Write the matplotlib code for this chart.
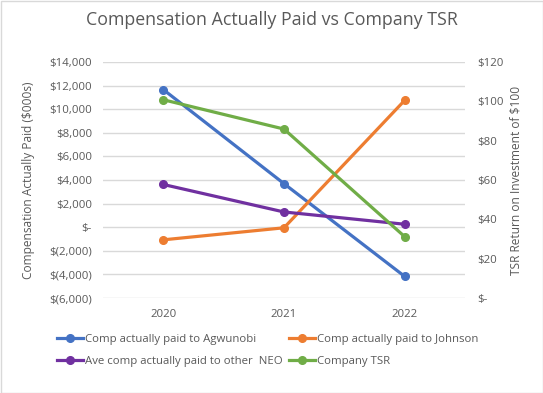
import numpy as np
import matplotlib.pyplot as plt
from matplotlib.patches import Rectangle

plt.rcParams['font.family'] = ['Open Sans', 'DejaVu Sans']

years = ['2020', '2021', '2022']
agwunobi = [11660, 3690, -4170]
johnson = [-1070, -50, 10750]
other_neo = [3620, 1290, 250]
tsr = [100.8, 85.9, 31.2]

grey = '#595959'
x = np.arange(len(years))

fig = plt.figure(figsize=(5.43, 3.93), dpi=100)
ax = fig.add_axes([103/543, 1-298/393, 362/543, 236/393])
ax2 = ax.twinx()

lw, ms = 2.3, 5.5
l1, = ax.plot(x, agwunobi, color='#4472C4', lw=lw, marker='o', ms=ms, label='Comp actually paid to Agwunobi')
l2, = ax.plot(x, johnson, color='#ED7D31', lw=lw, marker='o', ms=ms, label='Comp actually paid to Johnson')
l3, = ax.plot(x, other_neo, color='#7030A0', lw=lw, marker='o', ms=ms, label='Ave comp actually paid to other  NEO')
l4, = ax2.plot(x, tsr, color='#70AD47', lw=lw, marker='o', ms=ms, label='Company TSR')

ax.set_xlim(-0.5, 2.5)
ax.set_ylim(-6000, 14000)
ax.set_yticks(np.arange(-6000, 14001, 2000))
ax2.set_ylim(0, 120)
ax2.set_yticks(np.arange(0, 121, 20))

def left_fmt(v):
    if v == 0:
        return '$-'
    if v < 0:
        return '$({:,.0f})'.format(-v)
    return '${:,.0f}'.format(v)

ax.set_yticklabels([left_fmt(v) for v in ax.get_yticks()])
ax2.set_yticklabels(['$-' if v == 0 else '${:.0f}'.format(v) for v in ax2.get_yticks()])
ax.set_xticks(x)
ax.set_xticklabels(years)

ax.grid(axis='y', color='#D9D9D9', lw=1)
ax.set_axisbelow(True)
for a in (ax, ax2):
    for s in a.spines.values():
        s.set_visible(False)
    a.tick_params(length=0, colors=grey, labelsize=8.2)
ax.tick_params(axis='y', pad=8)
ax.tick_params(axis='x', pad=8)
ax2.tick_params(axis='y', pad=9)

ax.set_ylabel('Compensation Actually Paid ($000s)', color=grey, fontsize=8.6, labelpad=10)
ax2.set_ylabel('TSR Return on Investment of $100', color=grey, fontsize=8.6, labelpad=4)

fig.text(0.5, 1-20/393, 'Compensation Actually Paid vs Company TSR', ha='center', va='center',
         color=grey, fontsize=12.8)

# row-wise order like the original: legend fills columns first
fig.legend(handles=[l1, l3, l2, l4], loc='upper left', bbox_to_anchor=(57/543, 1-334/393),
           ncol=2, frameon=False, fontsize=8.2, labelcolor=grey, handlelength=2.3,
           handletextpad=0.18, columnspacing=0.55, labelspacing=1.0, borderpad=0,
           borderaxespad=0)

fig.patches.append(Rectangle((0.5/543, 0.5/393), 1-1/543, 1-1/393, transform=fig.transFigure,
                             fill=False, edgecolor='#D9D9D9', lw=1))

fig.savefig('out.png', dpi=100)
